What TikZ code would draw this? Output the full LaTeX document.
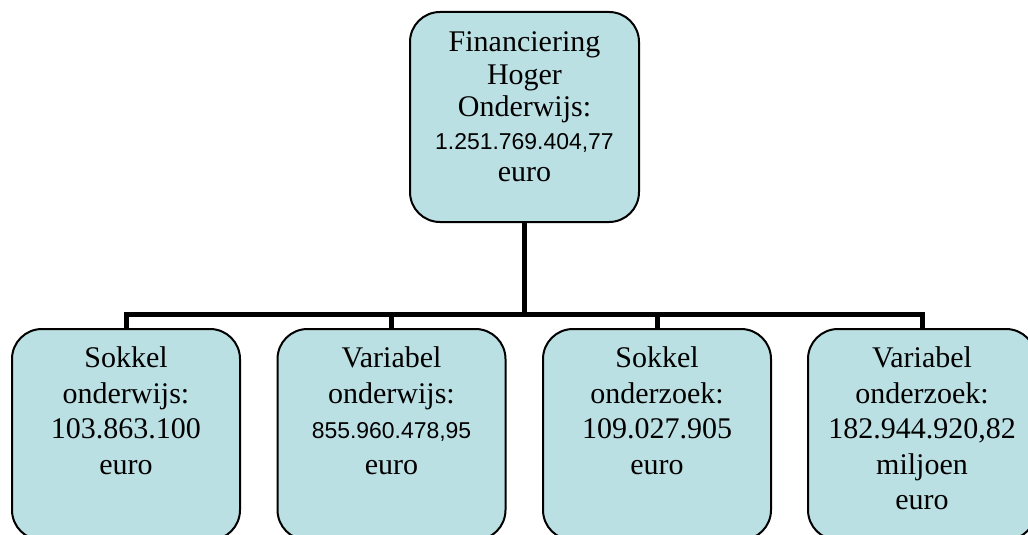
\documentclass[tikz,border=0pt]{standalone}
\usepackage{fontspec}
\setmainfont{Liberation Serif}
\newfontfamily\arialfont{Liberation Sans}
\usepackage{tikz}
\usetikzlibrary{positioning}
\definecolor{boxfill}{RGB}{187,224,227}
\tikzset{
  orgbox/.style={draw=black, line width=1.5pt, fill=boxfill, rounded corners=22.5pt,
    minimum width=171pt, minimum height=158.25pt, inner sep=0pt},
  orgtext/.style={align=center, inner sep=0pt, text width=168pt,
    font=\fontsize{22.5}{26.6}\selectfont},
  conn/.style={line width=3.75pt},
}
\newcommand{\bedrag}[1]{{\arialfont\fontsize{17.2}{24}\selectfont #1}}

\begin{document}
\begin{tikzpicture}[x=0.75pt,y=-0.75pt]
    \useasboundingbox (0,0) rectangle (1028,535);
    \node[orgbox, minimum width=171.75pt, minimum height=157.5pt] (top) at (524.5,117) {};
    \node[orgbox] (b1) at (126,434.5) {};
    \node[orgbox] (b2) at (391.5,434.5) {};
    \node[orgbox] (b3) at (657,434.5) {};
    \node[orgbox] (b4) at (922,434.5) {};
    \coordinate (bus) at (524.5,314.5);
    \foreach \n in {b1,b2,b3,b4}
      \draw[conn] (top.south) -- (bus) -| (\n.north);
    \node[orgtext, font=\fontsize{22.5}{24.4}\selectfont, below=15.4pt of top.north] (ttop)
      {Financiering\\Hoger\\Onderwijs:\\\bedrag{1.251.769.404,77}\\euro};
    \node[orgtext, below=13.9pt of b1.north] (t1) {Sokkel\\onderwijs:\\103.863.100\\euro};
    \node[orgtext, below=13.9pt of b2.north] (t2) {Variabel\\onderwijs:\\\bedrag{855.960.478,95}\\euro};
    \node[orgtext, below=13.9pt of b3.north] (t3) {Sokkel\\onderzoek:\\109.027.905\\euro};
    \node[orgtext, below=13.9pt of b4.north] (t4) {Variabel\\onderzoek:\\182.944.920,82\\miljoen\\euro};
\end{tikzpicture}
\end{document}
